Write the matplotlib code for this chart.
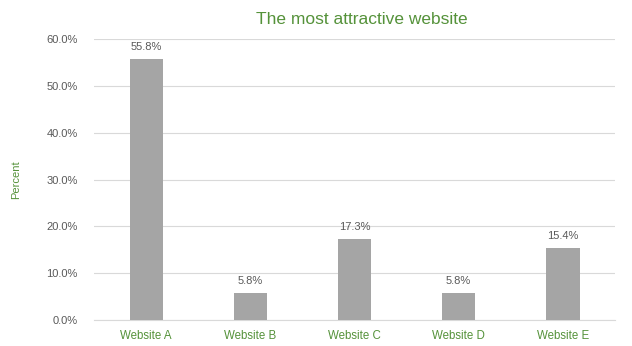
import matplotlib
matplotlib.use("Agg")
import matplotlib.pyplot as plt
from matplotlib.ticker import FuncFormatter

categories = ["Website A", "Website B", "Website C", "Website D", "Website E"]
percent = [55.8, 5.8, 17.3, 5.8, 15.4]
yticks = [0, 10, 20, 30, 40, 50, 60]

green = "#55923a"
grey_text = "#595959"

plt.rcParams["font.family"] = ["Liberation Sans", "DejaVu Sans"]

fig = plt.figure(figsize=(6.32, 3.46), dpi=100)
ax = fig.add_axes([0.149, 0.075, 0.824, 0.812])

x = range(len(categories))
bars = ax.bar(x, percent, width=0.32, color="#a5a5a5", zorder=3)
for xi, v in zip(x, percent):
    ax.annotate(f"{v:.1f}%", (xi, v), xytext=(0, 5), textcoords="offset points",
                ha="center", va="bottom", fontsize=8, color=grey_text)

ax.set_xlim(-0.5, len(categories) - 0.5)
ax.set_ylim(0, 60)
ax.set_yticks(yticks)
ax.yaxis.set_major_formatter(FuncFormatter(lambda v, p: f"{v:.1f}%"))
ax.set_xticks(list(x))
ax.set_xticklabels(categories)
ax.tick_params(axis="x", colors=green, labelsize=8.3, length=0, pad=7)
ax.tick_params(axis="y", colors=grey_text, labelsize=8, length=0, pad=12)
for lbl in ax.get_xticklabels():
    lbl.set_color(green)

ax.grid(axis="y", color="#d9d9d9", linewidth=0.8, zorder=0)
for s in ["top", "right", "left"]:
    ax.spines[s].set_visible(False)
ax.spines["bottom"].set_color("#d9d9d9")
ax.spines["bottom"].set_linewidth(0.8)

ax.set_ylabel("Percent", color=green, fontsize=8, labelpad=18)
fig.text(0.573, 0.945, "The most attractive website", ha="center", va="center",
         fontsize=12.5, color=green)

fig.savefig("out.png", dpi=100)
